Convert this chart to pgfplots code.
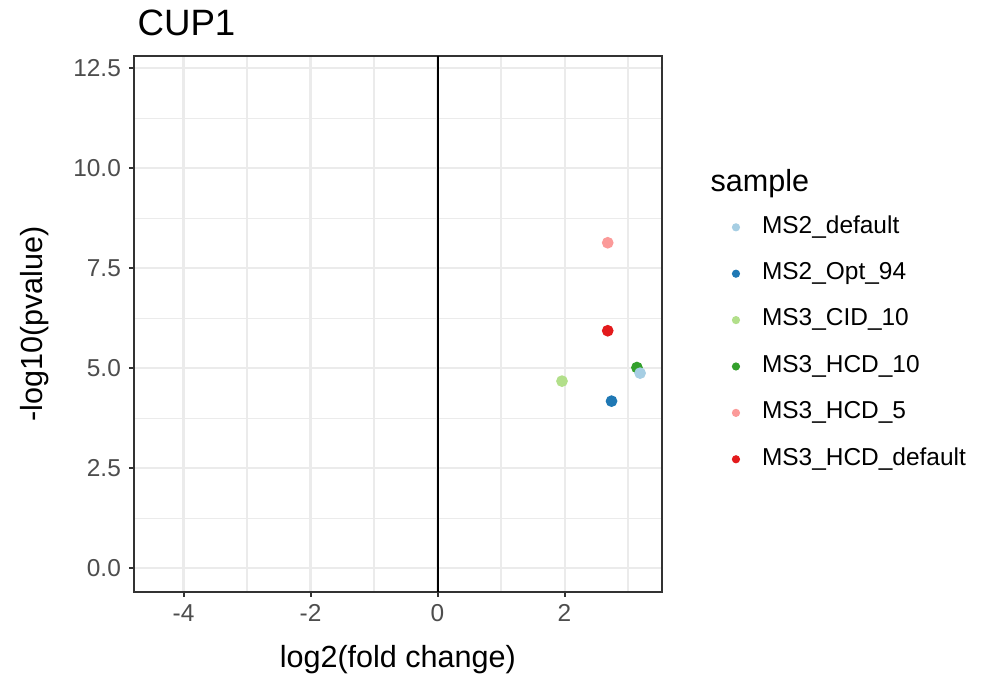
\documentclass[border=0pt]{standalone}
\usepackage{pgfplots}
\pgfplotsset{compat=1.18}
\usepackage{fontspec}
\setmainfont{Liberation Sans}
\definecolor{cA}{HTML}{A6CEE3}
\definecolor{cB}{HTML}{1F78B4}
\definecolor{cC}{HTML}{B2DF8A}
\definecolor{cD}{HTML}{33A02C}
\definecolor{cE}{HTML}{FB9A99}
\definecolor{cF}{HTML}{E31A1C}
\definecolor{gray92}{HTML}{EBEBEB}
\definecolor{gray20}{HTML}{333333}
\definecolor{gray30}{HTML}{4D4D4D}
\begin{document}
\begin{tikzpicture}
\begin{axis}[
  at={(48.24pt,32.51pt)}, anchor=south west,
  scale only axis, width=189.97pt, height=192.85pt,
  xmin=-4.78, xmax=3.53, ymin=-0.585, ymax=12.81,
  xtick={-4,-2,0,2}, xticklabels={-4,-2,0,2},
  ytick={0,2.5,5,7.5,10,12.5}, yticklabels={0.0,2.5,5.0,7.5,10.0,12.5},
  minor xtick={-3,-1,1,3}, minor ytick={1.25,3.75,6.25,8.75,11.25},
  grid=both,
  major grid style={color=gray92, line width=0.75pt},
  minor grid style={color=gray92, line width=0.45pt},
  axis line style={color=gray20, line width=0.7pt},
  tick style={color=gray20, line width=0.7pt},
  tick align=outside, major tick length=1.8pt, minor tick length=0pt,
  xtick pos=bottom, ytick pos=left,
  ticklabel style={font=\fontsize{8.8}{10}\selectfont, text=gray30},
  yticklabel style={xshift=0.6pt},
  xticklabel style={yshift=0.8pt},
  xlabel={log2(fold change)}, ylabel={-log10(pvalue)},
  label style={font=\fontsize{11}{13}\selectfont},
  xlabel style={at={(axis description cs:0.5,-0.1275)}, anchor=center},
  ylabel style={at={(axis description cs:-0.1876,0.5)}, anchor=center},
  clip=false,
  legend cell align=left,
  legend style={at={(axis description cs:1.132,0.703)}, anchor=north west,
    draw=none, fill=none, inner sep=0pt, row sep=8.3pt, column sep=0pt,
    font=\fontsize{8.8}{10}\selectfont,
    nodes={inner sep=0pt, text height=6.3pt, text depth=2.1pt}},
  legend image code/.code={\fill[#1] (0pt,0pt) circle (1.26pt); \path (9.2pt,0pt);},
]
\draw[black, line width=0.7pt] (axis cs:0,-0.585) -- (axis cs:0,12.81);
\addplot[forget plot, only marks, mark=*, mark size=1.9pt, color=cD, mark options={draw=cD, fill=cD}] coordinates {(3.14,5.02)};
\addplot[forget plot, only marks, mark=*, mark size=1.9pt, color=cA, mark options={draw=cA, fill=cA}] coordinates {(3.19,4.88)};
\addplot[forget plot, only marks, mark=*, mark size=1.9pt, color=cB, mark options={draw=cB, fill=cB}] coordinates {(2.74,4.18)};
\addplot[forget plot, only marks, mark=*, mark size=1.9pt, color=cC, mark options={draw=cC, fill=cC}] coordinates {(1.96,4.68)};
\addplot[forget plot, only marks, mark=*, mark size=1.9pt, color=cE, mark options={draw=cE, fill=cE}] coordinates {(2.68,8.14)};
\addplot[forget plot, only marks, mark=*, mark size=1.9pt, color=cF, mark options={draw=cF, fill=cF}] coordinates {(2.68,5.94)};
\addlegendimage{cA, fill=cA}\addlegendentry{MS2\_default}
\addlegendimage{cB, fill=cB}\addlegendentry{MS2\_Opt\_94}
\addlegendimage{cC, fill=cC}\addlegendentry{MS3\_CID\_10}
\addlegendimage{cD, fill=cD}\addlegendentry{MS3\_HCD\_10}
\addlegendimage{cE, fill=cE}\addlegendentry{MS3\_HCD\_5}
\addlegendimage{cF, fill=cF}\addlegendentry{MS3\_HCD\_default}
\node[anchor=west, font=\fontsize{11}{13}\selectfont, inner sep=0pt] at (axis description cs:1.0915,0.7624) {sample};
\node[anchor=west, font=\fontsize{13.2}{15}\selectfont, inner sep=0pt] at (axis description cs:0.0057,1.061) {CUP1};
\end{axis}
\path[use as bounding box] (0,0) rectangle (360pt,245.52pt);
\end{tikzpicture}
\end{document}
